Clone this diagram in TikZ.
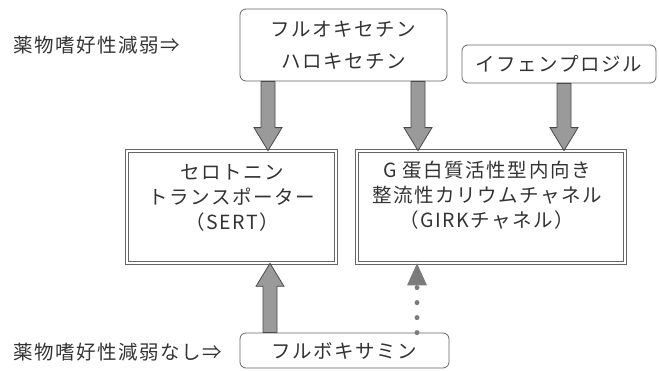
\documentclass[tikz,border=0pt]{standalone}
\usepackage{fontspec}
\setmainfont[LetterSpace=8]{Noto Sans CJK JP}
\usetikzlibrary{calc}
\definecolor{ink}{HTML}{333333}
\definecolor{boxline}{HTML}{666666}
\definecolor{arrowfill}{HTML}{9A9A9A}
\definecolor{arrowline}{HTML}{4A4A4A}
\tikzset{
  jp/.style={font=\fontsize{19.5pt}{25pt}\selectfont, text=ink, inner sep=0pt},
  rbox/.style={jp, draw=boxline, line width=0.8pt, rounded corners=6pt, align=center},
  dbox/.style={draw=boxline, line width=0.7pt, double=white, double distance=2.6pt},
  fatstyle/.style={fill=arrowfill, draw=arrowline, line width=0.8pt, line join=miter},
  dotline/.style={draw=arrowfill!80!black, line width=5pt, line cap=round, dash pattern=on 0pt off 15pt},
}
\newcommand\fatarrow[2]{%
  \path[fatstyle] let \p1=(#1), \p2=(#2), \n1={\y2-23*(\y2-\y1)/abs(\y2-\y1)} in
    ({\x1-7pt},\y1) -- ({\x1-7pt},{\n1*1pt}) -- ({\x1-14pt},{\n1*1pt}) -- (\x1,\y2)
    -- ({\x1+14pt},{\n1*1pt}) -- ({\x1+7pt},{\n1*1pt}) -- ({\x1+7pt},\y1) -- cycle;}
\begin{document}
\begin{tikzpicture}[x=1pt,y=-1pt]
\useasboundingbox (0,0) rectangle (659,371);
% labels
\node[jp, anchor=west] (lab1) at (13,45) {薬物嗜好性減弱⇒};
\node[jp, anchor=west] (lab2) at (13,352) {薬物嗜好性減弱なし⇒};
% drug boxes
\node[rbox, minimum width=207pt, minimum height=72pt, font=\fontsize{19.5pt}{32pt}\selectfont] (top) at (343.5,45) {フルオキセチン\\ハロキセチン};
\node[rbox, minimum width=194pt, minimum height=38pt] (ifen) at (559,64) {イフェンプロジル};
\node[rbox, minimum width=209pt, minimum height=35pt] (fluv) at (344.5,350.5) {フルボキサミン};
% target boxes
\node[dbox, minimum width=209pt, minimum height=112pt] (sert) at (231.5,207) {};
\node[dbox, minimum width=268pt, minimum height=112pt] (girk) at (491,207) {};
\node[jp, align=center] (sertT) at (232,197.5) {セロトニン\\トランスポーター\\（SERT）};
\node[jp, align=center] (girkT) at (487,195) {G 蛋白質活性型内向き\\整流性カリウムチャネル\\（GIRKチャネル）};
% arrow anchor points
\path (top.south) ++(-75.5,0) coordinate (a1s);
\coordinate (a1t) at (a1s |- sert.north);
\path (top.south) ++(74.5,0) coordinate (a2s);
\coordinate (a2t) at (a2s |- girk.north);
\path (ifen.south) ++(5,0) coordinate (a3s);
\coordinate (a3t) at (a3s |- girk.north);
\path (fluv.north) ++(-74.5,0) coordinate (a4s);
\coordinate (a4t) at (a4s |- sert.south);
\path (fluv.north) ++(72.5,0) coordinate (d1s);
\coordinate (d1t) at (d1s |- girk.south);
% fat arrows
\fatarrow{a1s}{a1t}
\fatarrow{a2s}{a2t}
\fatarrow{a3s}{a3t}
\fatarrow{a4s}{a4t}
% dotted arrow
\draw[dotline] (d1s) -- ($(d1s)!0.75!(d1t)$);
\path[fill=arrowfill!80!black] let \p1=(d1t) in (\x1,\y1) -- ({\x1-10pt},{\y1-22pt}) -- ({\x1+10pt},{\y1-22pt}) -- cycle;
\end{tikzpicture}
\end{document}
